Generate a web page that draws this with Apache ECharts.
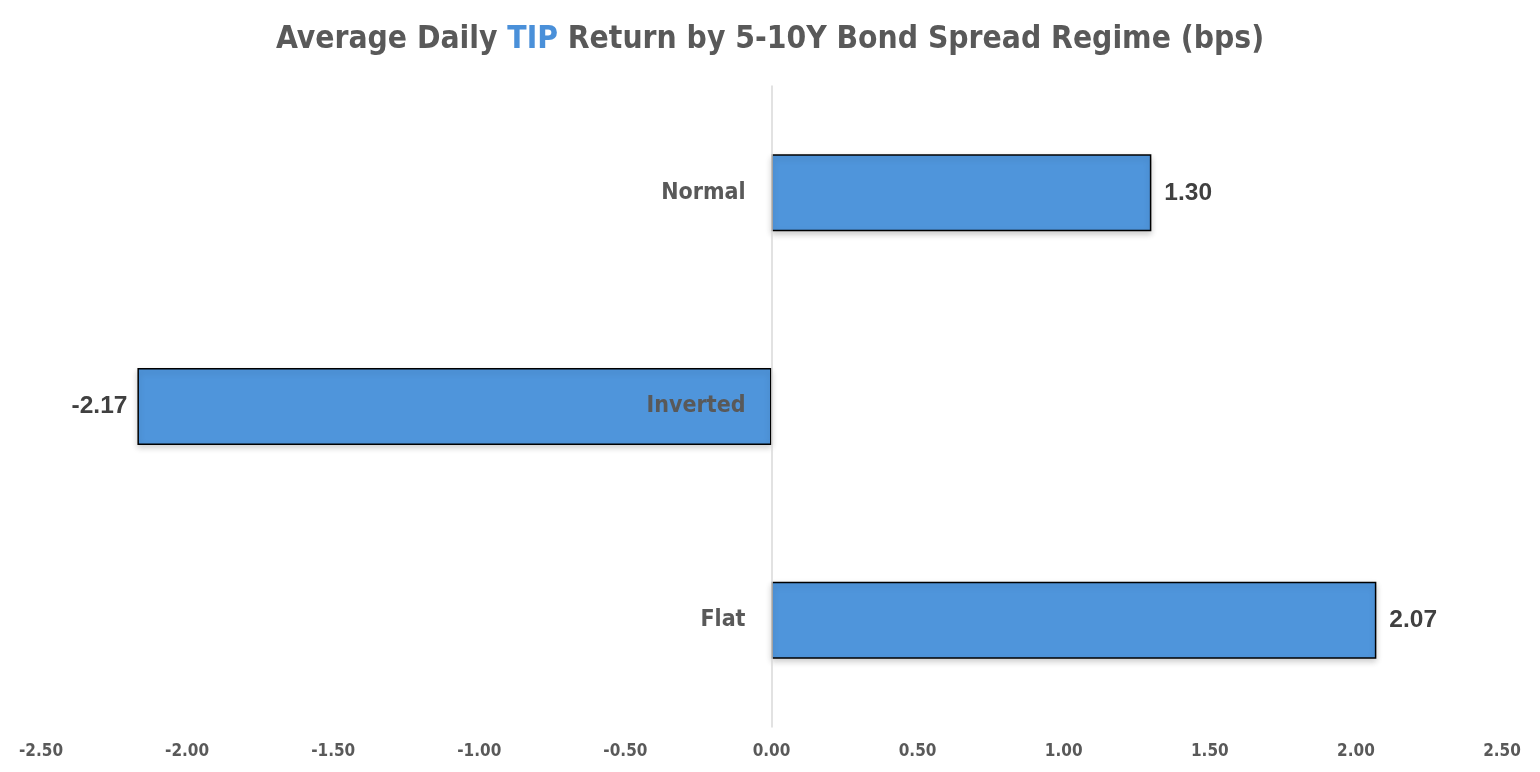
<!DOCTYPE html>
<html>
<head>
<meta charset="utf-8">
<script src="https://cdn.jsdelivr.net/npm/echarts@6/dist/echarts.min.js"></script>
<style>html,body{margin:0;padding:0;background:#fff}#c{width:1540px;height:772px}</style>
</head>
<body>
<div id="c"></div>
<script>
const categories = ['Flat', 'Inverted', 'Normal'];
const values = [2.07, -2.17, 1.30];
const axisMin = -2.5, axisMax = 2.5, axisInterval = 0.5;

const gridLeft = 41, gridRight = 38;
const plotW = 1540 - gridLeft - gridRight;
const zeroOffset = plotW * (0 - axisMin) / (axisMax - axisMin);

const chart = echarts.init(document.getElementById('c'));
const narrow = '"Liberation Sans Narrow", "DejaVu Sans Condensed", "Liberation Sans", sans-serif';
chart.setOption({
  backgroundColor: '#ffffff',
  animation: false,
  title: {
    left: 'center',
    top: 19,
    text: '{a|Average Daily }{b|TIP}{a| Return by 5-10Y Bond Spread Regime (bps)}',
    textStyle: {
      rich: {
        a: { fontFamily: narrow, fontWeight: 'bold', fontSize: 31.5, color: '#595959' },
        b: { fontFamily: narrow, fontWeight: 'bold', fontSize: 31.5, color: '#4A90D9' }
      }
    }
  },
  grid: { left: gridLeft, right: gridRight, top: 86, bottom: 45, containLabel: false, outerBoundsMode: 'none' },
  xAxis: {
    type: 'value', min: axisMin, max: axisMax, interval: axisInterval,
    splitLine: { show: false },
    axisLine: { show: false }, axisTick: { show: false },
    axisLabel: {
      formatter: v => v.toFixed(2), margin: 16,
      fontFamily: narrow, fontWeight: 'bold', fontSize: 17, color: '#595959'
    }
  },
  yAxis: {
    type: 'category', data: categories, z: 5,
    position: 'left', offset: -zeroOffset,
    axisLine: { onZero: false, lineStyle: { color: '#D9D9D9', width: 1.5 } },
    axisTick: { show: false },
    axisLabel: {
      margin: 26, fontFamily: narrow, fontWeight: 'bold', fontSize: 23, color: '#595959'
    }
  },
  series: [{
    type: 'bar',
    barWidth: '36%',
    data: values.map(v => ({
      value: v,
      label: { position: v < 0 ? 'left' : 'right', distance: v < 0 ? 10 : 13 }
    })),
    itemStyle: {
      color: '#4F95DB', borderColor: '#000000', borderWidth: 1.5,
      shadowBlur: 6, shadowColor: 'rgba(0,0,0,0.18)', shadowOffsetY: 3
    },
    label: {
      show: true,
      formatter: p => p.value.toFixed(2),
      fontFamily: '"Liberation Sans", Arial, sans-serif', fontWeight: 'bold', fontSize: 24.5, color: '#404040'
    }
  }]
});
</script>
</body>
</html>
